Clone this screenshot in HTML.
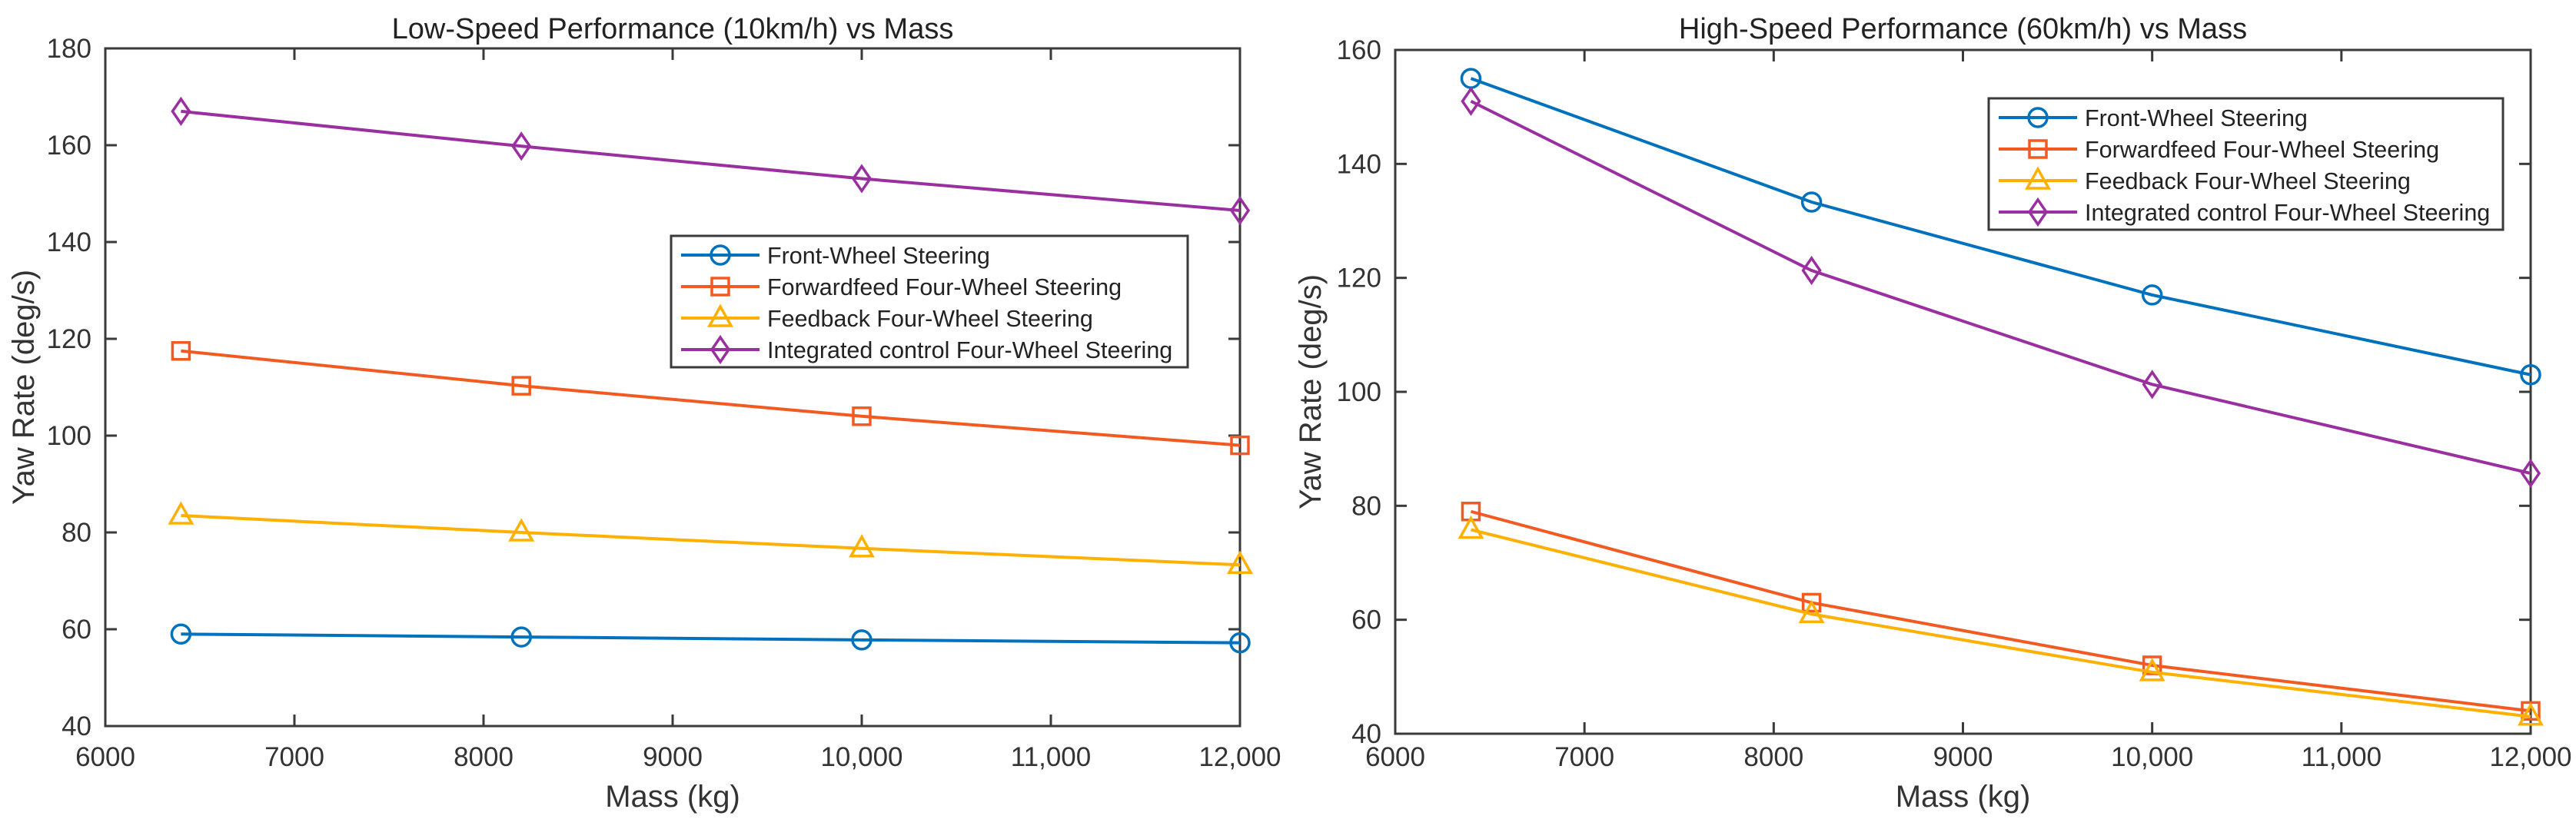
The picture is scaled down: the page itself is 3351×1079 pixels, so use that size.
<!DOCTYPE html>
<html><head><meta charset="utf-8"><style>
html,body{margin:0;padding:0;background:#fff;}
svg{display:block;font-family:"Liberation Sans",Arial,sans-serif;}
</style></head><body>
<svg id="fig" width="3351" height="1079" viewBox="0 0 3351 1079" xmlns="http://www.w3.org/2000/svg"></svg>
<script>
const masses = [6400, 8200, 10000, 12000];
const seriesNames = ["Front-Wheel Steering","Forwardfeed Four-Wheel Steering","Feedback Four-Wheel Steering","Integrated control Four-Wheel Steering"];
const lowFront = [59, 58.4, 57.8, 57.2];
const lowForward = [117.5, 110.3, 104, 98];
const lowFeedback = [83.5, 80, 76.7, 73.3];
const lowIntegrated = [167, 159.8, 153.1, 146.5];
const highFront = [155, 133.3, 117, 103];
const highForward = [79, 63, 52, 44];
const highFeedback = [75.8, 61, 50.8, 43];
const highIntegrated = [151, 121.3, 101.3, 85.7];
const xTickValues = [6000,7000,8000,9000,10000,11000,12000];
const xTickLabels = ["6000","7000","8000","9000","10,000","11,000","12,000"];
const lowYTicks = [40,60,80,100,120,140,160,180];
const highYTicks = [40,60,80,100,120,140,160];

const NS="http://www.w3.org/2000/svg";
const svg=document.getElementById('fig');
const colors=["#0072BD","#F25A22","#FFB000","#9A2FA0"];
const markers=["circle","square","triangle","diamond"];
function el(tag,attrs,parent){const e=document.createElementNS(NS,tag);for(const k in attrs)e.setAttribute(k,attrs[k]);(parent||svg).appendChild(e);return e;}

function marker(g,type,x,y,c){
  let m;
  if(type==="circle") m=el('circle',{cx:x,cy:y,r:12,fill:'none',stroke:c,'stroke-width':3.5},g);
  else if(type==="square") m=el('rect',{x:x-11,y:y-11,width:22,height:22,fill:'none',stroke:c,'stroke-width':3.5},g);
  else if(type==="triangle") m=el('polygon',{points:`${x},${y-15} ${x+14},${y+10} ${x-14},${y+10}`,fill:'none',stroke:c,'stroke-width':3.5},g);
  else m=el('polygon',{points:`${x},${y-16} ${x+11},${y} ${x},${y+16} ${x-11},${y}`,fill:'none',stroke:c,'stroke-width':3.5},g);
  return m;
}

function drawPanel(cfg){
  const {L,T,R,B,ymin,ymax,yticks,series,title,name,legend,ylabX}=cfg;
  const sx=v=>L+(v-6000)/(12000-6000)*(R-L);
  const sy=v=>B-(v-ymin)/(ymax-ymin)*(B-T);
  const g=el('g',{});
  
  
  const t=el('text',{x:(L+R)/2,y:50,'text-anchor':'middle','font-size':38,fill:'#222'},g);
  t.textContent=title;
  
  
  const frame=el('rect',{x:L,y:T,width:R-L,height:B-T,fill:'none',stroke:'#3a3a3a','stroke-width':3},g);
  
  
  xTickValues.forEach((v,i)=>{
    const x=sx(v);
    el('line',{x1:x,y1:B,x2:x,y2:B-15,stroke:'#3a3a3a','stroke-width':3},g);
    el('line',{x1:x,y1:T,x2:x,y2:T+15,stroke:'#3a3a3a','stroke-width':3},g);
    const lt=el('text',{x:x,y:997,'text-anchor':'middle','font-size':35,fill:'#333'},g);
    lt.textContent=xTickLabels[i];
    
    
  });
  yticks.forEach(v=>{
    const y=sy(v);
    el('line',{x1:L,y1:y,x2:L+15,y2:y,stroke:'#3a3a3a','stroke-width':3},g);
    el('line',{x1:R,y1:y,x2:R-15,y2:y,stroke:'#3a3a3a','stroke-width':3},g);
    const lt=el('text',{x:L-18,y:y+12,'text-anchor':'end','font-size':35,fill:'#333'},g);
    lt.textContent=String(v);
    
    
  });
  const xl=el('text',{x:(L+R)/2,y:1050,'text-anchor':'middle','font-size':40,fill:'#333'},g);
  xl.textContent="Mass (kg)";
  
  
  const yl=el('text',{x:0,y:0,'text-anchor':'middle','font-size':40,fill:'#333',transform:`translate(${ylabX},${(T+B)/2}) rotate(-90)`},g);
  yl.textContent="Yaw Rate (deg/s)";
  
  
  series.forEach((vals,si)=>{
    const c=colors[si];
    const pts=vals.map((v,i)=>`${sx(masses[i])},${sy(v)}`).join(' ');
    const pl=el('polyline',{points:pts,fill:'none',stroke:c,'stroke-width':4},g);
    
    
    vals.forEach((v,i)=>{
      const m=marker(g,markers[si],sx(masses[i]),sy(v),c);
      
      
    });
  });
  const lg=el('g',{},g);
  
  
  el('rect',{x:legend.x,y:legend.y,width:legend.w,height:legend.h,fill:'#fff',stroke:'#3a3a3a','stroke-width':3},lg);
  seriesNames.forEach((n,i)=>{
    const y=legend.y+25+i*41;
    const e=el('g',{},lg);
    
    
    el('line',{x1:legend.x+13,y1:y,x2:legend.x+115,y2:y,stroke:colors[i],'stroke-width':4},e);
    marker(e,markers[i],legend.x+64,y,colors[i]);
    const tx=el('text',{x:legend.x+125,y:y+11,'font-size':30.5,fill:'#222'},e);
    tx.textContent=n;
  });
}

drawPanel({L:137,T:63,R:1613,B:945,ymin:40,ymax:180,yticks:lowYTicks,
  series:[lowFront,lowForward,lowFeedback,lowIntegrated],
  title:"Low-Speed Performance (10km/h) vs Mass",name:"low-speed-chart",
  legend:{x:873,y:307,w:672,h:171},ylabX:44});
drawPanel({L:1815,T:65,R:3292,B:955,ymin:40,ymax:160,yticks:highYTicks,
  series:[highFront,highForward,highFeedback,highIntegrated],
  title:"High-Speed Performance (60km/h) vs Mass",name:"high-speed-chart",
  legend:{x:2587,y:128,w:669,h:171},ylabX:1718});
</script>
</body></html>
